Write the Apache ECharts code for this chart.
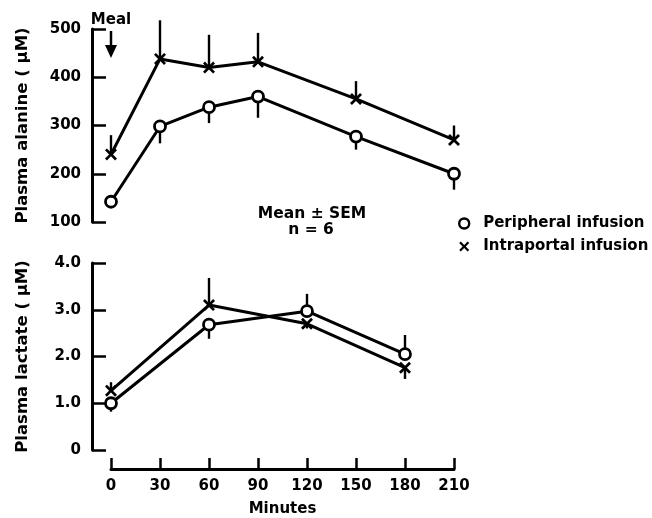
<!DOCTYPE html>
<html>
<head>
<meta charset="utf-8">
<script src="https://cdn.jsdelivr.net/npm/echarts@6/dist/echarts.min.js"></script>
<style>html,body{margin:0;padding:0;background:#fff}#c{width:652px;height:518px}</style>
</head>
<body>
<div id="c"></div>
<script>
// ---- data ----
const minutesAlanine = [0, 30, 60, 90, 150, 210];
const alaninePeripheral = [142, 298, 338, 360, 277, 200];
const alaninePeripheralSem = [8, 35, 33, 44, 27, 33];
const alaninePeripheralDir = [-1, -1, -1, -1, -1, -1];
const alanineIntraportal = [240, 438, 420, 432, 355, 270];
const alanineIntraportalSem = [40, 80, 68, 60, 37, 30];
const alanineIntraportalDir = [1, 1, 1, 1, 1, 1];

const minutesLactate = [0, 60, 120, 180];
const lactatePeripheral = [1.0, 2.68, 2.97, 2.05];
const lactatePeripheralSem = [0.18, 0.3, 0.37, 0.41];
const lactatePeripheralDir = [-1, -1, 1, 1];
const lactateIntraportal = [1.27, 3.1, 2.7, 1.76];
const lactateIntraportalSem = [0.18, 0.58, 0.1, 0.24];
const lactateIntraportalDir = [1, 1, -1, -1];

const xTicks = [0, 30, 60, 90, 120, 150, 180, 210];
const alanineTicks = [100, 200, 300, 400, 500];
const lactateTicks = [0, 1.0, 2.0, 3.0, 4.0];

const seriesNames = ['Peripheral infusion', 'Intraportal infusion'];

// ---- styling ----
const FONT = 'DejaVu Sans';
const XPATH = 'path://M0,1.6 L1.6,0 L5,3.4 L8.4,0 L10,1.6 L6.6,5 L10,8.4 L8.4,10 L5,6.6 L1.6,10 L0,8.4 L3.4,5 Z';

function pairs(xs, ys) { return xs.map((x, i) => [x, ys[i]]); }
function errData(xs, ys, sem, dir) { return xs.map((x, i) => [x, ys[i], ys[i] + dir[i] * sem[i]]); }

function errSeries(idx, data) {
  return {
    type: 'custom', xAxisIndex: idx, yAxisIndex: idx, z: 1, silent: true,
    data: data,
    renderItem: function (params, api) {
      const a = api.coord([api.value(0), api.value(1)]);
      const b = api.coord([api.value(0), api.value(2)]);
      return { type: 'line', shape: { x1: a[0], y1: a[1], x2: b[0], y2: b[1] },
        style: { stroke: '#000', lineWidth: 2.4 } };
    }
  };
}
function lineSeries(name, idx, data, isX) {
  return {
    name: name, type: 'line', xAxisIndex: idx, yAxisIndex: idx, z: 3,
    data: data,
    symbol: isX ? XPATH : 'circle',
    symbolSize: isX ? 12 : 11,
    lineStyle: { color: '#000', width: 3 },
    itemStyle: isX ? { color: '#000' } : { color: '#fff', borderColor: '#000', borderWidth: 2.8 },
    emphasis: { disabled: true }
  };
}

const axisLabelStyle = { color: '#000', fontFamily: FONT, fontWeight: 'bold', fontSize: 15 };
const nameStyle = { color: '#000', fontFamily: FONT, fontWeight: 'bold', fontSize: 15 };
const yNameStyle = { color: '#000', fontFamily: FONT, fontWeight: 'bold', fontSize: 16.5 };
const axisLine = { show: true, onZero: false, lineStyle: { color: '#000', width: 3 } };

const chart = echarts.init(document.getElementById('c'));
chart.setOption({
  backgroundColor: '#fff',
  animation: false,
  grid: [
    { left: 111, right: 198, top: 29, height: 193 },
    { left: 111, right: 198, top: 263, height: 195 }
  ],
  xAxis: [
    { gridIndex: 0, type: 'value', min: xTicks[0], max: xTicks[xTicks.length - 1], show: false },
    { gridIndex: 1, type: 'value', min: xTicks[0], max: xTicks[xTicks.length - 1], interval: 30,
      offset: 19,
      name: 'Minutes', nameLocation: 'middle', nameGap: 33, nameTextStyle: nameStyle,
      axisLine: axisLine,
      axisTick: { inside: true, length: 11, lineStyle: { color: '#000', width: 2.5 } },
      axisLabel: Object.assign({ margin: 10 }, axisLabelStyle),
      splitLine: { show: false } }
  ],
  yAxis: [
    { gridIndex: 0, type: 'value', min: alanineTicks[0], max: alanineTicks[alanineTicks.length - 1], interval: 100,
      offset: 19,
      name: 'Plasma alanine ( μM)', nameLocation: 'middle', nameGap: 61, nameTextStyle: yNameStyle,
      axisLine: axisLine,
      axisTick: { inside: true, length: 14, lineStyle: { color: '#000', width: 2.5 } },
      axisLabel: Object.assign({ margin: 11 }, axisLabelStyle),
      splitLine: { show: false } },
    { gridIndex: 1, type: 'value', min: lactateTicks[0], max: lactateTicks[lactateTicks.length - 1], interval: 1,
      offset: 19,
      name: 'Plasma lactate ( μM)', nameLocation: 'middle', nameGap: 61, nameTextStyle: yNameStyle,
      axisLine: axisLine,
      axisTick: { inside: true, length: 14, lineStyle: { color: '#000', width: 2.5 } },
      axisLabel: Object.assign({ margin: 11, formatter: v => v === 0 ? '0' : v.toFixed(1) }, axisLabelStyle),
      splitLine: { show: false } }
  ],
  legend: {
    orient: 'vertical', left: 453, top: 211, itemWidth: 28, itemHeight: 10, itemGap: 8,
    selectedMode: false,
    textStyle: { color: '#000', fontFamily: FONT, fontWeight: 'bold', fontSize: 15 },
    data: [
      { name: seriesNames[0], icon: 'circle', itemStyle: { color: '#fff', borderColor: '#000', borderWidth: 2.4 } },
      { name: seriesNames[1], icon: XPATH, itemStyle: { color: '#000' } }
    ]
  },
  graphic: [
    { type: 'text', x: 312, y: 214, style: { text: 'Mean ± SEM', fill: '#000', font: 'bold 15.5px "DejaVu Sans"', textAlign: 'center', textVerticalAlign: 'middle' } },
    { type: 'text', x: 311, y: 230, style: { text: 'n = 6', fill: '#000', font: 'bold 15.5px "DejaVu Sans"', textAlign: 'center', textVerticalAlign: 'middle' } },
    { type: 'text', x: 111, y: 20, style: { text: 'Meal', fill: '#000', font: 'bold 15px "DejaVu Sans"', textAlign: 'center', textVerticalAlign: 'middle' } },
    { type: 'line', shape: { x1: 111, y1: 31, x2: 111, y2: 48 }, style: { stroke: '#000', lineWidth: 2.5 } },
    { type: 'polygon', shape: { points: [[105, 45], [117, 45], [111, 58]] }, style: { fill: '#000' } }
  ],
  series: [
    errSeries(0, errData(minutesAlanine, alaninePeripheral, alaninePeripheralSem, alaninePeripheralDir)),
    errSeries(0, errData(minutesAlanine, alanineIntraportal, alanineIntraportalSem, alanineIntraportalDir)),
    errSeries(1, errData(minutesLactate, lactatePeripheral, lactatePeripheralSem, lactatePeripheralDir)),
    errSeries(1, errData(minutesLactate, lactateIntraportal, lactateIntraportalSem, lactateIntraportalDir)),
    lineSeries(seriesNames[0], 0, pairs(minutesAlanine, alaninePeripheral), false),
    lineSeries(seriesNames[1], 0, pairs(minutesAlanine, alanineIntraportal), true),
    lineSeries(seriesNames[0], 1, pairs(minutesLactate, lactatePeripheral), false),
    lineSeries(seriesNames[1], 1, pairs(minutesLactate, lactateIntraportal), true)
  ]
});
</script>
</body>
</html>
